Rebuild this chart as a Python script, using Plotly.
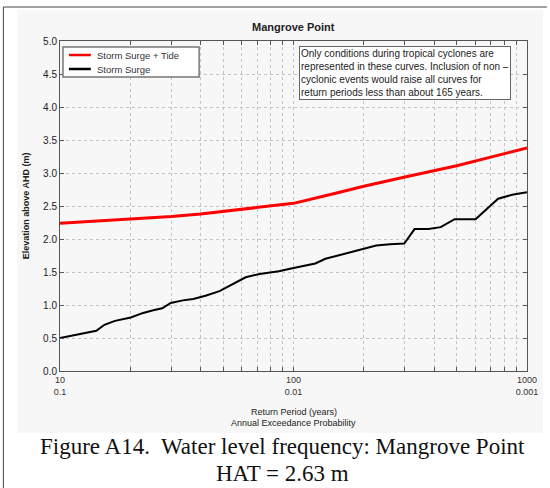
import plotly.graph_objects as go

# Storm Surge + Tide (red)
rp_tide = [10, 20, 30, 40, 50, 60, 70, 80, 90, 100, 150, 200, 300, 400, 500, 700, 1000]
elev_tide = [2.24, 2.30, 2.34, 2.38, 2.42, 2.45, 2.48, 2.50, 2.52, 2.54, 2.69, 2.80, 2.94, 3.04,
             3.11, 3.24, 3.38]

# Storm Surge (black)
rp_surge = [10, 13.1, 14.3, 15.5, 17.2, 20.1, 22.7, 25.1, 27.4, 29.8, 33.6, 37.2, 42, 48.2, 53.5,
            62.4, 71.6, 86.5, 100, 124, 137, 155, 175, 197, 226, 259, 298, 330, 378, 427, 490,
            602, 752, 863, 1000]
elev_surge = [0.50, 0.58, 0.61, 0.70, 0.76, 0.81, 0.88, 0.92, 0.95, 1.03, 1.07, 1.09, 1.14, 1.21,
              1.29, 1.42, 1.47, 1.51, 1.56, 1.63, 1.70, 1.75, 1.80, 1.85, 1.90, 1.92, 1.93, 2.15,
              2.15, 2.18, 2.30, 2.30, 2.61, 2.67, 2.71]

x_ticks = [m * 10 ** d for d in (1, 2) for m in range(1, 10)] + [1000]
x_labels = {10: "10<br>0.1", 100: "100<br>0.01", 1000: "1000<br>0.001"}
y_ticks = [0.0, 0.5, 1.0, 1.5, 2.0, 2.5, 3.0, 3.5, 4.0, 4.5, 5.0]

note = ("Only conditions during tropical cyclones are<br>"
        "represented in these curves. Inclusion of non –<br>"
        "cyclonic events would raise all curves for<br>"
        "return periods less than about 165 years.")

W, H = 550, 488
L, R, T, B = 60, 20, 41, 117
pw, ph = W - L - R, H - T - B


def px(x):
    return (x - L) / pw


def py(y):
    return (H - B - y) / ph


def text_ann(x, y, text, size, **kw):
    d = dict(x=x, y=y, xref="paper", yref="paper", text=text, showarrow=False,
             xanchor="center", yanchor="middle",
             font=dict(family="Liberation Sans, Arial", size=size, color="#222222"))
    d.update(kw)
    return d


fig = go.Figure()
fig.add_trace(go.Scatter(x=rp_tide, y=elev_tide, mode="lines", name="Storm Surge + Tide",
                         line=dict(color="#ff0000", width=3)))
fig.add_trace(go.Scatter(x=rp_surge, y=elev_surge, mode="lines", name="Storm Surge",
                         line=dict(color="#000000", width=2)))

axis_font = dict(family="Liberation Sans, Arial", size=9, color="#333333")
fig.update_xaxes(
    type="log", range=[1, 3],
    tickvals=x_ticks, ticktext=[x_labels.get(v, "") for v in x_ticks],
    ticks="inside", ticklen=4, tickcolor="#555555",
    showgrid=True, gridcolor="#c4c4c4", griddash="dot", gridwidth=1,
    showline=True, linecolor="#555555", linewidth=1, mirror="ticks",
    tickfont=axis_font, zeroline=False,
)
fig.update_yaxes(
    range=[0, 5], tickvals=y_ticks, ticktext=[f"{v:.1f}" for v in y_ticks],
    ticks="inside", ticklen=4, tickcolor="#555555",
    showgrid=True, gridcolor="#c4c4c4", griddash="dot", gridwidth=1,
    showline=True, linecolor="#555555", linewidth=1, mirror="ticks",
    tickfont=dict(family="Liberation Sans, Arial", size=10, color="#222222"), zeroline=False,
)

serif = dict(family="Liberation Serif, Times New Roman", size=23, color="#111111")
annotations = [
    text_ann(0.5, py(27), "<b>Mangrove Point</b>", 11),
    text_ann(px(26), py(206), "<b>Elevation above AHD (m)</b>", 9, textangle=-90),
    text_ann(0.5, py(412), "Return Period (years)", 9),
    text_ann(0.5, py(423), "Annual Exceedance Probability", 9),
    text_ann(px(301), py(46), note, 10, xanchor="left", yanchor="top", align="left",
             bgcolor="white", bordercolor="#666666", borderwidth=1, borderpad=1),
    text_ann(px(284), py(446), "Figure A14.&nbsp; Water level frequency: Mangrove Point", 23,
             font=serif),
    text_ann(px(284), py(474), "HAT = 2.63 m", 23, font=serif),
]

shapes = [
    # faint panel behind the chart
    dict(type="rect", xref="paper", yref="paper", x0=px(17), x1=px(546), y0=py(433), y1=py(10),
         fillcolor="#f7f7f7", line=dict(width=0), layer="below"),
    # page frame lines
    dict(type="line", xref="paper", yref="paper", x0=px(3), x1=px(3), y0=py(7), y1=py(488),
         line=dict(color="#444444", width=1)),
    dict(type="line", xref="paper", yref="paper", x0=px(3), x1=px(550), y0=py(7), y1=py(7),
         line=dict(color="#444444", width=1)),
    # legend box
    dict(type="rect", xref="paper", yref="paper", x0=px(63), x1=px(200), y0=py(77), y1=py(47),
         fillcolor="white", line=dict(color="#777777", width=1.5)),
]

# compact legend drawn from the traces themselves
for i, tr in enumerate(fig.data):
    ly = 55 + 14 * i
    shapes.append(dict(type="line", xref="paper", yref="paper", x0=px(69), x1=px(91),
                       y0=py(ly), y1=py(ly), line=dict(color=tr.line.color, width=2.5)))
    annotations.append(text_ann(px(95), py(ly), tr.name, 9.5, xanchor="left",
                                font=dict(family="Liberation Sans, Arial", size=9.5,
                                          color="#333333")))

fig.update_layout(
    width=W, height=H,
    margin=dict(l=L, r=R, t=T, b=B),
    paper_bgcolor="white", plot_bgcolor="white",
    annotations=annotations, shapes=shapes,
    showlegend=False,
)

# drop the browser's default body margin so the figure sits at the page origin
fig.write_html("out.html", config={"displayModeBar": False},
               post_script="document.body.style.margin='0';")
